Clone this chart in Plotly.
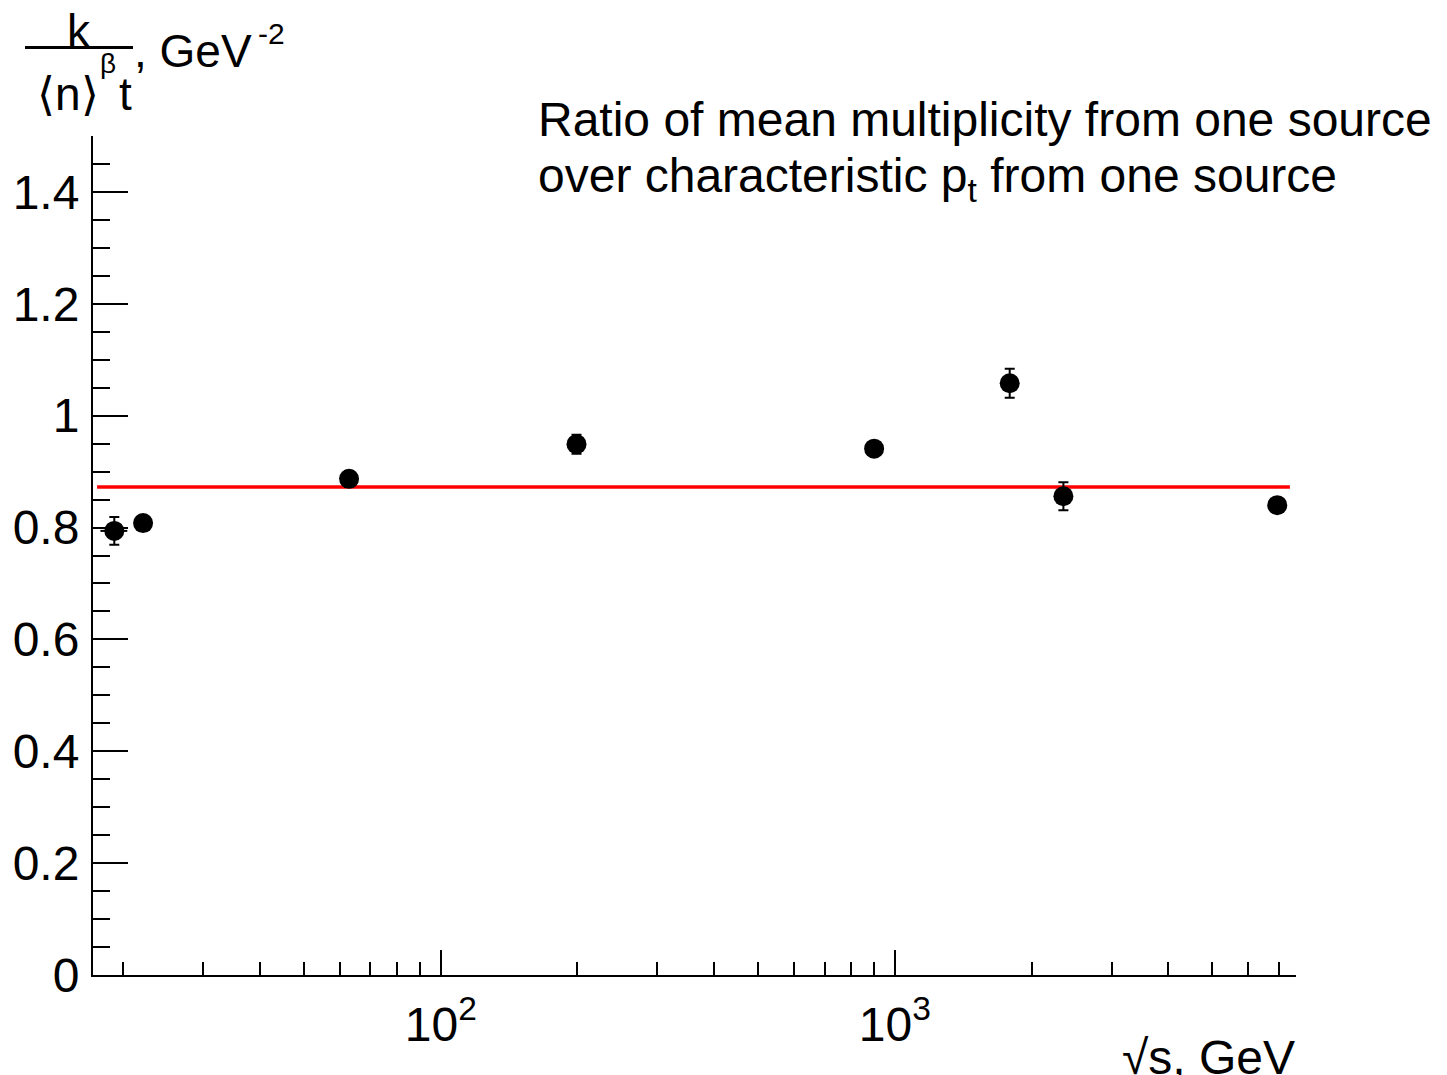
import plotly.graph_objects as go

# ---- data ----
sqrt_s = [19.1, 22.1, 62.8, 199.0, 900.0, 1790.0, 2350.0, 6950.0]
ratio = [0.794, 0.808, 0.887, 0.949, 0.941, 1.058, 0.856, 0.840]
ratio_err = [0.025, 0.005, 0.014, 0.017, 0.012, 0.026, 0.025, 0.008]
sqrt_s_err = [1.3, 0, 0, 0, 0, 0, 0, 0]

fit_x = [17.5, 7410.0]
fit_level = 0.8725
fit_y = [fit_level, fit_level]

x_major_vals = [100, 1000]
x_major_text = ["10<sup>2</sup>", "10<sup>3</sup>"]
x_minor_vals = [20, 30, 40, 50, 60, 70, 80, 90,
                200, 300, 400, 500, 600, 700, 800, 900,
                2000, 3000, 4000, 5000, 6000, 7000]
y_tick_vals = [0, 0.2, 0.4, 0.6, 0.8, 1.0, 1.2, 1.4]
y_tick_text = ["0", "0.2", "0.4", "0.6", "0.8", "1", "1.2", "1.4"]

FONT = "Liberation Sans, Arial, Helvetica, sans-serif"

# plot area in pixels
W, H = 1447, 1075
X0, X1 = 93, 1296
Y1, Y0 = 136, 975


def px(x):
    return (x - X0) / (X1 - X0)


def py(y):
    return (Y0 - y) / (Y0 - Y1)


fig = go.Figure()

fig.add_trace(go.Scatter(
    x=fit_x, y=fit_y, mode="lines",
    line=dict(color="#ff0000", width=3.5),
    hoverinfo="skip", showlegend=False,
))

fig.add_trace(go.Scatter(
    x=sqrt_s, y=ratio, mode="markers",
    marker=dict(color="black", size=20, line=dict(width=0)),
    error_y=dict(type="data", array=ratio_err, visible=True,
                 color="black", thickness=2, width=5),
    error_x=dict(type="data", array=sqrt_s_err, visible=True,
                 color="black", thickness=2, width=0),
    showlegend=False,
))

annotations = [
    # title text
    dict(text="Ratio of mean multiplicity from one source",
         x=px(536), y=py(90.5), xanchor="left", yanchor="top",
         font=dict(size=48, family=FONT, color="black")),
    dict(text="over characteristic p<sub>t</sub> from one source",
         x=px(536), y=py(146.5), xanchor="left", yanchor="top",
         font=dict(size=48, family=FONT, color="black")),
    # y axis title pieces
    dict(text="k", x=px(79), y=py(3), xanchor="center", yanchor="top",
         font=dict(size=46, family=FONT, color="black")),
    dict(text="\u27e8n\u27e9", x=px(68), y=py(66), xanchor="center", yanchor="top",
         font=dict(size=46, family=FONT, color="black")),
    dict(text="\u03b2", x=px(108), y=py(46), xanchor="center", yanchor="top",
         font=dict(size=28, family=FONT, color="black")),
    dict(text="t", x=px(125), y=py(66), xanchor="center", yanchor="top",
         font=dict(size=46, family=FONT, color="black")),
    dict(text=", GeV", x=px(132), y=py(23), xanchor="left", yanchor="top",
         font=dict(size=46, family=FONT, color="black")),
    dict(text="-2", x=px(256), y=py(15), xanchor="left", yanchor="top",
         font=dict(size=30, family=FONT, color="black")),
    # x axis title
    dict(text="\u221as, GeV", x=px(1297), y=py(1029), xanchor="right", yanchor="top",
         font=dict(size=48, family=FONT, color="black")),
]
for a in annotations:
    a.update(xref="paper", yref="paper", showarrow=False)

fig.update_layout(
    width=W, height=H,
    margin=dict(l=X0, r=W - X1, t=Y1, b=H - Y0, pad=0),
    paper_bgcolor="white", plot_bgcolor="white",
    font=dict(family=FONT, color="black"),
    annotations=annotations,
    shapes=[dict(type="line", xref="paper", yref="paper",
                 x0=px(25), x1=px(133), y0=py(47.5), y1=py(47.5),
                 line=dict(color="black", width=3))],
    xaxis=dict(
        type="log", range=[1.2341, 3.8833],
        showline=True, linecolor="black", linewidth=2, mirror=False,
        showgrid=False, zeroline=False,
        ticks="inside", ticklen=25, tickwidth=2, tickcolor="black",
        tickmode="array", tickvals=x_major_vals, ticktext=x_major_text,
        tickfont=dict(size=48, family=FONT, color="black"),
        ticklabelstandoff=6,
        minor=dict(tickmode="array", tickvals=x_minor_vals, ticks="inside",
                   ticklen=13, tickwidth=2, tickcolor="black", showgrid=False),
    ),
    yaxis=dict(
        range=[0, 1.5],
        showline=True, linecolor="black", linewidth=2, mirror=False,
        showgrid=False, zeroline=False,
        ticks="inside", ticklen=35, tickwidth=2, tickcolor="black",
        tickmode="array", tickvals=y_tick_vals, ticktext=y_tick_text,
        tickfont=dict(size=48, family=FONT, color="black"),
        ticklabelstandoff=2,
        minor=dict(dtick=0.05, tick0=0, ticks="inside", ticklen=17,
                   tickwidth=2, tickcolor="black", showgrid=False),
    ),
)

fig.write_html("out.html")
